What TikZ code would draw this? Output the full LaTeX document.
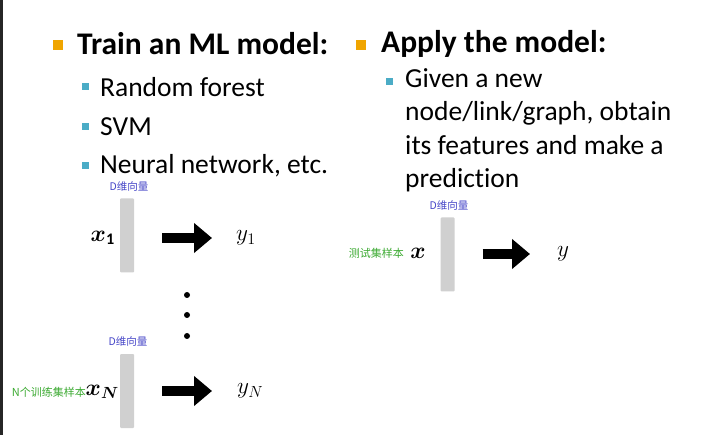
\documentclass[tikz,border=0pt]{standalone}
\usepackage{fontspec}
\usepackage{amsmath,bm}
\setmainfont[Ligatures=NoCommon]{Carlito}
\newfontfamily\cjk{Noto Sans CJK SC}
\usetikzlibrary{arrows.meta}
\definecolor{bulletorange}{RGB}{240,165,0}
\definecolor{bulletblue}{RGB}{75,172,198}
\definecolor{notegreen}{RGB}{60,170,50}
\definecolor{noteblue}{RGB}{70,70,200}
\definecolor{bargray}{RGB}{208,208,208}

\begin{document}
\begin{tikzpicture}
[x=1pt, y=-1pt, every node/.style={inner sep=0pt},
 head/.style={anchor=west, font=\fontsize{31.5}{36}\selectfont\bfseries},
 item/.style={anchor=west, font=\fontsize{27.5}{33}\selectfont},
 mainsq/.style={fill=bulletorange, minimum size=10pt},
 subsq/.style={fill=bulletblue, minimum size=7pt},
 vecbar/.style={fill=bargray, rounded corners=1pt, minimum width=14pt, minimum height=74pt},
 dimnote/.style={font=\cjk\fontsize{10.5}{12}\selectfont, text=noteblue},
 setnote/.style={anchor=east, font=\cjk\fontsize{11}{13}\selectfont, text=notegreen},
 var/.style={font=\fontsize{20.74}{25}\selectfont, scale=1.12, transform shape},
 bigarrow/.style={line width=10pt, -{Triangle[length=18pt, width=29pt]}}]
\useasboundingbox (0,0) rectangle (717,435);
\fill [white] (0,0) rectangle (717,435);
\fill [black!85] (0,0) rectangle (3,435);
% left column
\node (b1) [mainsq] at (57.5,45) {};
\node (h1) [head] at (77,44) {Train an ML model:};
\node (s1) [subsq] at (85,87) {};
\node (t1) [item] at (100,87) {Random forest};
\node (s2) [subsq] at (85,127) {};
\node (t2) [item] at (100,127) {SVM};
\node (s3) [subsq] at (85,166) {};
\node (t3) [item] at (100,166) {Neural network, etc.};
% right column
\node (b2) [mainsq] at (361,45) {};
\node (h2) [head] at (381,44) {Apply the model:};
\node (s4) [subsq] at (389,82) {};
\node (t4) [item, align=left, anchor=north west, font=\fontsize{27.5}{33.5}\selectfont] at (405,68)
  {Given a new\\node/link/graph, obtain\\its features and make a\\prediction};
% training samples
\node (bar1) [vecbar] at (127,235.5) {};
\node (d1) [dimnote] at (129,187) {D维向量};
\node (x1) [var, anchor=east] at (115,238) {$\bm{x}_{\mathbf{1}}$};
\node (y1) [var, anchor=west] at (236,238) {$y_1$};
\draw [bigarrow, shorten <=28pt, shorten >=24pt] (bar1.east |- y1.west) -- (y1.west);
\node (p1) [circle, fill=black, minimum size=6pt] at (187,295) {};
\node (p2) [circle, fill=black, minimum size=6pt] at (187,315) {};
\node (p3) [circle, fill=black, minimum size=6pt] at (187,336) {};
\node (barN) [vecbar] at (127,391) {};
\node (dN) [dimnote] at (128,342) {D维向量};
\node (xN) [var, anchor=east] at (119,392) {$\bm{x}_{\bm{N}}$};
\node (nN) [setnote] at (86,392) {N个训练集样本};
\node (yN) [var, anchor=west] at (237,391) {$y_N$};
\draw [bigarrow, shorten <=28pt, shorten >=25pt] (barN.east |- yN.west) -- (yN.west);
% test sample
\node (bar2) [vecbar] at (447.5,254.5) {};
\node (d2) [dimnote] at (449,206) {D维向量};
\node (x2) [var, anchor=east] at (426,253) {$\bm{x}$};
\node (n2) [setnote] at (404,253) {测试集样本};
\node (y2) [var, anchor=west] at (557,254) {$y$};
\draw [bigarrow, shorten <=28pt, shorten >=27pt] (bar2.east |- y2.west) -- (y2.west);
\end{tikzpicture}
\end{document}
